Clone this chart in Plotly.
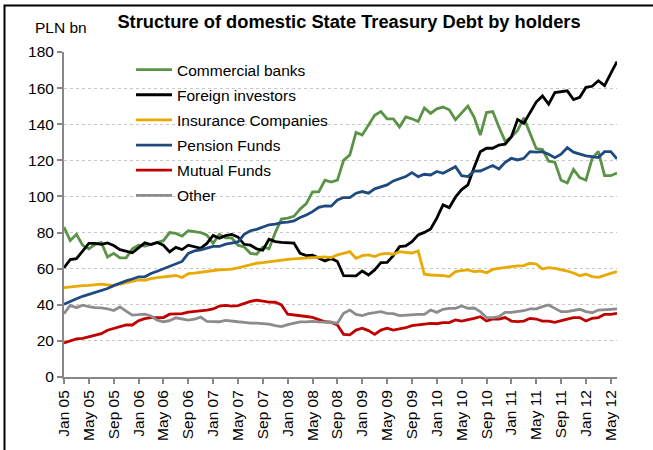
import pandas as pd
import plotly.graph_objects as go

# Monthly observations, Jan 2005 - Jun 2012 (PLN bn)
months = list(pd.date_range("2005-01-01", periods=90, freq="MS").strftime("%b %y"))

tick_labels = ["Jan 05", "May 05", "Sep 05", "Jan 06", "May 06", "Sep 06",
               "Jan 07", "May 07", "Sep 07", "Jan 08", "May 08", "Sep 08",
               "Jan 09", "May 09", "Sep 09", "Jan 10", "May 10", "Sep 10",
               "Jan 11", "May 11", "Sep 11", "Jan 12", "May 12"]

commercial_banks = [
    83, 75.5, 79, 73, 71, 73.5, 74.5, 66.5, 68.5, 66, 66, 71, 73, 72.5, 73.5,
    74.5, 75.5, 80, 79.5, 78, 81, 80.5, 80, 78.5, 74, 79, 77, 77, 73, 72,
    68.5, 68, 72, 71, 80, 87.5, 88, 89, 93, 96, 102.5, 102.5, 109, 108, 109,
    120, 123, 135.5, 134, 139.5, 145, 147, 143, 143, 138.5, 144, 143, 141.5, 149, 146,
    148.5, 149.5, 148, 142.5, 146, 150, 144, 134, 146.5, 147, 138.5, 130.5, 133, 136.5, 143.5,
    135.5, 126.5, 126, 119.5, 119, 109, 107.5, 115, 110.5, 109, 121, 125, 111.5, 111.5, 113]

foreign_investors = [
    60.5, 65, 65.5, 69.5, 74, 74, 73.5, 74.3, 72.8, 70.5, 69.5, 68.8, 71.5, 74.3, 73.3,
    74.5, 73, 69.3, 71.8, 70.6, 73, 72.2, 71.3, 74, 78.4, 76.8, 78.3, 79, 77.5, 73.5,
    73, 71, 70.2, 76.3, 75, 74.6, 74.6, 74.2, 68.5, 67.2, 67.5, 65.7, 64.3, 65.7, 64,
    56.1, 56.1, 56, 58.7, 56.5, 59.3, 63.3, 63.5, 67.2, 72.2, 72.6, 75, 78.7, 80.1, 82,
    88, 95.3, 93.8, 99.6, 103.8, 106.4, 116, 124.8, 126.7, 126.7, 128.5, 129, 133, 142.6, 140.5,
    146.5, 152.3, 155.7, 151.1, 157.5, 158.2, 158.5, 153.6, 154.9, 160.4, 161, 164.1, 161.4, 168.2, 174.7]

insurance_companies = [
    49.5, 50, 50.4, 50.6, 50.8, 51.2, 51.4, 51, 50.6, 51.5, 52.3, 53, 53.8, 53.5, 54.5,
    55, 55.3, 55.8, 56.2, 55.1, 57.2, 57.5, 58, 58.5, 59.1, 59.4, 59.5, 59.7, 60.4, 61.3,
    62.3, 63, 63.4, 63.9, 64.3, 64.8, 65.2, 65.4, 65.6, 65.8, 66, 66.2, 66.5, 66.1, 67.6,
    68.5, 69.4, 65.7, 67.2, 67.6, 66.7, 68.1, 68.5, 68, 69.4, 69, 68.7, 69.8, 56.9, 56.5,
    56.5, 56.1, 55.6, 58.4, 58.9, 59.3, 58.4, 58.7, 57.8, 59.6, 60.2, 60.8, 61.1, 61.5, 61.7,
    63, 62.6, 59.8, 60.6, 60.2, 59.5, 58.7, 57.6, 56.1, 56.9, 55.6, 55.2, 56.5, 57.4, 58.4]

pension_funds = [
    40.3, 41.6, 43.3, 44.7, 45.8, 46.6, 47.7, 49, 50.6, 52.1, 53.2, 54.3, 55.5, 55.5, 57.3,
    58.6, 59.9, 61, 62.3, 64, 68.5, 69.8, 70.4, 71.2, 72.3, 72.3, 73.6, 74.2, 74.8, 79,
    81, 81.8, 83, 84.3, 84.7, 85.5, 85.8, 86.4, 88.3, 89.7, 91.6, 94, 94.8, 94.6, 98,
    99.4, 99.4, 101.8, 102.7, 101.8, 104.2, 105.4, 106.4, 108.6, 110, 111, 113.2, 111, 112.3, 111.9,
    113.8, 112.8, 114.7, 116.5, 111.5, 111, 114, 114.1, 115.6, 117.1, 115.2, 118.9, 121.1, 120.2, 121.1,
    124.8, 124.5, 124.8, 123.4, 121.5, 123.4, 127, 124.5, 123.4, 122.5, 122, 121.5, 124.8, 124.8, 120.8]

mutual_funds = [
    18.9, 20, 21.1, 21.4, 22.2, 22.9, 24, 25.9, 26.8, 28.1, 28.8, 28.8, 31.2, 32.3, 32.9,
    32.9, 32.9, 34.8, 34.8, 35.1, 35.9, 36.2, 36.6, 37, 37.7, 39.3, 39.7, 39.3, 39.5, 40.9,
    41.9, 42.6, 41.9, 41.5, 41.4, 39.9, 34.8, 34.5, 33.8, 33.5, 33, 31.7, 30.6, 30.4, 28.8,
    23.6, 23.3, 26, 27, 25.7, 23.6, 26, 27, 26, 26.6, 27.3, 28.4, 28.8, 29.2, 29.7,
    29.5, 30.1, 30.1, 31.6, 31, 31.6, 32.5, 33.4, 31, 32.1, 32.1, 32.9, 31, 30.7, 31,
    32.5, 32.1, 31, 31, 30.3, 31, 32.1, 32.9, 32.9, 31, 32.5, 32.9, 34.7, 34.7, 35.3]

other = [
    35.1, 39.7, 38.4, 39.8, 39, 38.4, 38.3, 37.8, 36.8, 38.8, 36.5, 34.3, 34.5, 34.8, 33.8,
    31.5, 30.6, 31.2, 32.8, 32.3, 31.5, 32, 33.2, 30.8, 30.6, 30.6, 31.4, 30.8, 30.6, 30.3,
    29.8, 29.8, 29.6, 29.3, 28.5, 27.9, 29, 29.9, 30.5, 30.5, 30.8, 30.5, 30.6, 30.3, 29.8,
    35.3, 37.1, 34.7, 34, 35.1, 35.6, 36.2, 35.2, 35.1, 34, 34.3, 34.3, 34.7, 34.7, 37.1,
    35.8, 37.5, 38, 38, 39.3, 38, 38.2, 36.2, 32.9, 32.9, 33.4, 35.8, 35.8, 36.2, 36.7,
    37.7, 37.7, 39, 39.9, 38, 36.2, 36.2, 36.7, 37.5, 36.2, 35.6, 37.1, 37.1, 37.5, 37.7]

series = [
    ("Commercial banks", commercial_banks, "#5B9346"),
    ("Foreign investors", foreign_investors, "#000000"),
    ("Insurance Companies", insurance_companies, "#E8A900"),
    ("Pension Funds", pension_funds, "#1F4A80"),
    ("Mutual Funds", mutual_funds, "#C00000"),
    ("Other", other, "#8C8C8C"),
]

FONT = "Liberation Sans, Arial, sans-serif"
FS = 15.5

fig = go.Figure()
for name, values, color in series:
    fig.add_trace(go.Scatter(
        x=months, y=values, name=name, mode="lines",
        legendgroup=name,
        line=dict(color=color, width=2.8),
    ))

# plot area geometry (pixels)
W, H = 653, 450
L, R, T, B = 64, 36, 52, 73
pw, ph = W - L - R, H - T - B

def px_x(x):
    return (x - L) / pw

def px_y(y):
    return (H - B - y) / ph

fig.update_layout(
    width=W, height=H,
    margin=dict(l=L, r=R, t=T, b=B, pad=0, autoexpand=False),
    paper_bgcolor="white", plot_bgcolor="white",
    font=dict(family=FONT, size=FS, color="#000000"),
    title=dict(
        text="<b>Structure of domestic State Treasury Debt by holders</b>",
        font=dict(family=FONT, size=18.3, color="#000000"),
        xref="paper", x=px_x(349), xanchor="center",
        yref="container", y=1 - 21.5 / H, yanchor="middle",
    ),
    showlegend=True,
    legend=dict(
        x=px_x(131), y=px_y(53), xanchor="left", yanchor="top",
        bgcolor="rgba(0,0,0,0)", borderwidth=0,
        font=dict(family=FONT, size=FS, color="#000000"),
        itemwidth=36, tracegroupgap=2,
    ),
    xaxis=dict(
        type="category", range=[0, len(months) - 1],
        tickmode="array", tickvals=tick_labels, ticktext=tick_labels,
        tickangle=-90, ticks="outside", ticklen=5, tickwidth=2, tickcolor="#878787",
        showline=True, linecolor="#878787", linewidth=2,
        showgrid=False, zeroline=False, automargin=False,
        tickfont=dict(family=FONT, size=FS, color="#000000"),
    ),
    yaxis=dict(
        range=[0, 180], tickmode="linear", tick0=0, dtick=20,
        ticks="outside", ticklen=5, tickwidth=2, tickcolor="#878787",
        showline=True, linecolor="#878787", linewidth=2,
        showgrid=True, gridcolor="#C8C8C8", gridwidth=1, griddash="dot",
        zeroline=False, automargin=False,
        tickfont=dict(family=FONT, size=FS, color="#000000"),
    ),
    annotations=[
        dict(text="PLN bn", xref="paper", yref="paper",
             x=px_x(61), y=px_y(27.5), xanchor="center", yanchor="middle",
             showarrow=False, font=dict(family=FONT, size=FS, color="#000000")),
    ],
    shapes=[
        # outer frame (left and top edges visible)
        dict(type="rect", xref="paper", yref="paper",
             x0=px_x(4.5), x1=px_x(720), y0=px_y(5.5), y1=px_y(520),
             line=dict(color="#000000", width=2), fillcolor="rgba(0,0,0,0)",
             layer="above"),
    ],
)

fig.write_html("out.html")
